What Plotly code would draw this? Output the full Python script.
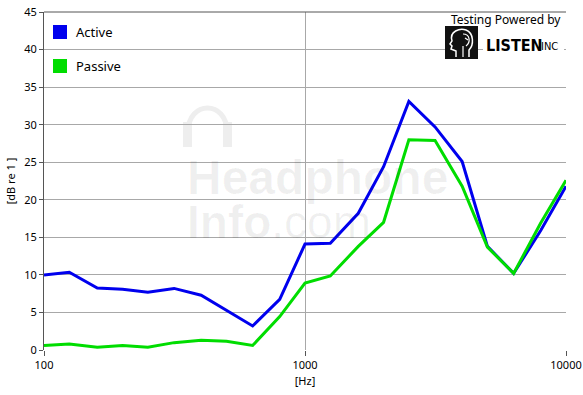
import plotly.graph_objects as go

freqs = [100, 125, 160, 200, 250, 315, 400, 500, 630, 800, 1000, 1250, 1600,
         2000, 2500, 3150, 4000, 5000, 6300, 8000, 10000]
active = [10.0, 10.35, 8.25, 8.1, 7.7, 8.2, 7.3, 5.3, 3.2, 6.75, 14.1, 14.2,
          18.2, 24.4, 33.1, 29.7, 25.1, 13.8, 10.2, 15.9, 21.8]
passive = [0.6, 0.8, 0.36, 0.6, 0.36, 0.98, 1.3, 1.15, 0.6, 4.45, 8.9, 9.85,
           13.8, 17.0, 28.0, 27.9, 21.8, 13.7, 10.2, 16.9, 22.6]
series_names = ["Active", "Passive"]
series_colors = ["#0000ee", "#00dd00"]
x_ticks = [100, 1000, 10000]
x_tick_labels = ["100", "1000", "10000"]
y_ticks = list(range(0, 50, 5))

W, H = 583, 395
L, R, T, B = 44, 17, 12, 45
PW, PH = W - L - R, H - T - B


def xp(px):
    return (px - L) / PW


def yp(py):
    return (H - B - py) / PH


FONT = "Noto Sans, DejaVu Sans, sans-serif"

fig = go.Figure()
for name, vals, col in zip(series_names, [active, passive], series_colors):
    fig.add_trace(go.Scatter(x=freqs, y=vals, mode="lines", name=name,
                             line=dict(color=col, width=3), showlegend=False,
                             hoverinfo="skip"))

shapes = []
annotations = []

# custom legend
for i, (name, col) in enumerate(zip(series_names, series_colors)):
    top = 25 + 34 * i
    shapes.append(dict(type="rect", xref="paper", yref="paper",
                       x0=xp(53), x1=xp(67), y0=yp(top), y1=yp(top + 14),
                       fillcolor=col, line=dict(width=0)))
    annotations.append(dict(xref="paper", yref="paper", x=xp(74), y=yp(top + 7),
                            xanchor="left", yanchor="middle", showarrow=False,
                            text=name, font=dict(family=FONT, size=13, color="#000")))

# top border
shapes.append(dict(type="line", xref="paper", yref="paper", x0=0, x1=1, y0=1, y1=1,
                   line=dict(color="#555555", width=1)))

# watermark headphone icon
wm = "#eeeeee"
shapes.append(dict(type="path", xref="paper", yref="paper", layer="below",
                   path=f"M {xp(188)} {yp(132)} C {xp(188)} {yp(100)} {xp(227)} {yp(100)} {xp(227)} {yp(132)}",
                   line=dict(color=wm, width=5)))
for x0, x1 in [(183, 192), (223, 232)]:
    shapes.append(dict(type="rect", xref="paper", yref="paper", layer="below",
                       x0=xp(x0), x1=xp(x1), y0=yp(122), y1=yp(147),
                       fillcolor=wm, line=dict(width=0)))

annotations.append(dict(xref="paper", yref="paper", x=xp(185), y=yp(178),
                        xanchor="left", yanchor="middle", showarrow=False,
                        text="<b>Headphone</b>",
                        font=dict(family="Liberation Sans, Arial, sans-serif", size=48,
                                  color="rgba(0,0,0,0.06)")))
annotations.append(dict(xref="paper", yref="paper", x=xp(185), y=yp(222),
                        xanchor="left", yanchor="middle", showarrow=False,
                        text="<b>Info</b>.com",
                        font=dict(family="Liberation Sans, Arial, sans-serif", size=46,
                                  color="rgba(0,0,0,0.06)")))

# logo
annotations.append(dict(xref="paper", yref="paper", x=xp(563), y=yp(19),
                        xanchor="right", yanchor="middle", showarrow=False,
                        text="Testing Powered by",
                        font=dict(family=FONT, size=12, color="#000")))
shapes.append(dict(type="rect", xref="paper", yref="paper",
                   x0=xp(483), x1=xp(564), y0=yp(33), y1=yp(56),
                   fillcolor="white", line=dict(width=0)))
shapes.append(dict(type="rect", xref="paper", yref="paper",
                   x0=xp(445), x1=xp(478), y0=yp(26), y1=yp(59),
                   fillcolor="#111111", line=dict(width=0)))
head = (f"M {xp(456)} {yp(57)} L {xp(456)} {yp(51)} L {xp(451)} {yp(49)} L {xp(452)} {yp(46)} "
        f"L {xp(450)} {yp(44)} L {xp(452)} {yp(41)} C {xp(449)} {yp(31)} {xp(460)} {yp(28)} {xp(466)} {yp(30)} "
        f"C {xp(474)} {yp(33)} {xp(474)} {yp(45)} {xp(469)} {yp(50)} L {xp(469)} {yp(57)}")
shapes.append(dict(type="path", xref="paper", yref="paper", path=head,
                   line=dict(color="white", width=1.5)))
brain = (f"M {xp(463)} {yp(34)} C {xp(470)} {yp(34)} {xp(471)} {yp(42)} {xp(466)} {yp(46)} "
         f"M {xp(465)} {yp(38)} L {xp(468)} {yp(40)} M {xp(463)} {yp(46)} L {xp(463)} {yp(57)}")
shapes.append(dict(type="path", xref="paper", yref="paper", path=brain,
                   line=dict(color="white", width=1.2)))
annotations.append(dict(xref="paper", yref="paper", x=xp(484), y=yp(45),
                        xanchor="left", yanchor="middle", showarrow=False,
                        text="<b>LISTEN</b>",
                        font=dict(family="Liberation Sans Narrow, DejaVu Sans Condensed, sans-serif",
                                  size=16, color="#000")))
annotations.append(dict(xref="paper", yref="paper", x=xp(539), y=yp(47),
                        xanchor="left", yanchor="middle", showarrow=False,
                        text="INC",
                        font=dict(family="Liberation Sans Narrow, DejaVu Sans Condensed, sans-serif",
                                  size=11, color="#000")))

fig.update_layout(
    width=W, height=H,
    margin=dict(l=L, r=R, t=T, b=B, autoexpand=False),
    paper_bgcolor="white", plot_bgcolor="white",
    font=dict(family=FONT, size=11, color="#000"),
    shapes=shapes, annotations=annotations,
    hovermode=False,
    xaxis=dict(type="log", range=[2, 4], tickvals=x_ticks, ticktext=x_tick_labels,
               showgrid=True, gridcolor="#a8a8a8", gridwidth=1,
               ticks="outside", ticklen=5, tickcolor="#555555",
               showline=False, zeroline=False, automargin=False,
               title=dict(text="[Hz]", standoff=6, font=dict(size=11)),
               tickfont=dict(size=11)),
    yaxis=dict(range=[0, 45], tickvals=y_ticks,
               showgrid=True, gridcolor="#a8a8a8", gridwidth=1,
               ticks="outside", ticklen=4, tickcolor="#555555",
               showline=True, linecolor="#555555", linewidth=1,
               zeroline=False, automargin=False,
               title=dict(text="[dB re 1 ]", standoff=6, font=dict(size=11)),
               tickfont=dict(size=11)),
)

fig.write_html("out.html", config={"displayModeBar": False},
               post_script="document.body.style.margin='0';document.body.style.overflow='hidden';")
